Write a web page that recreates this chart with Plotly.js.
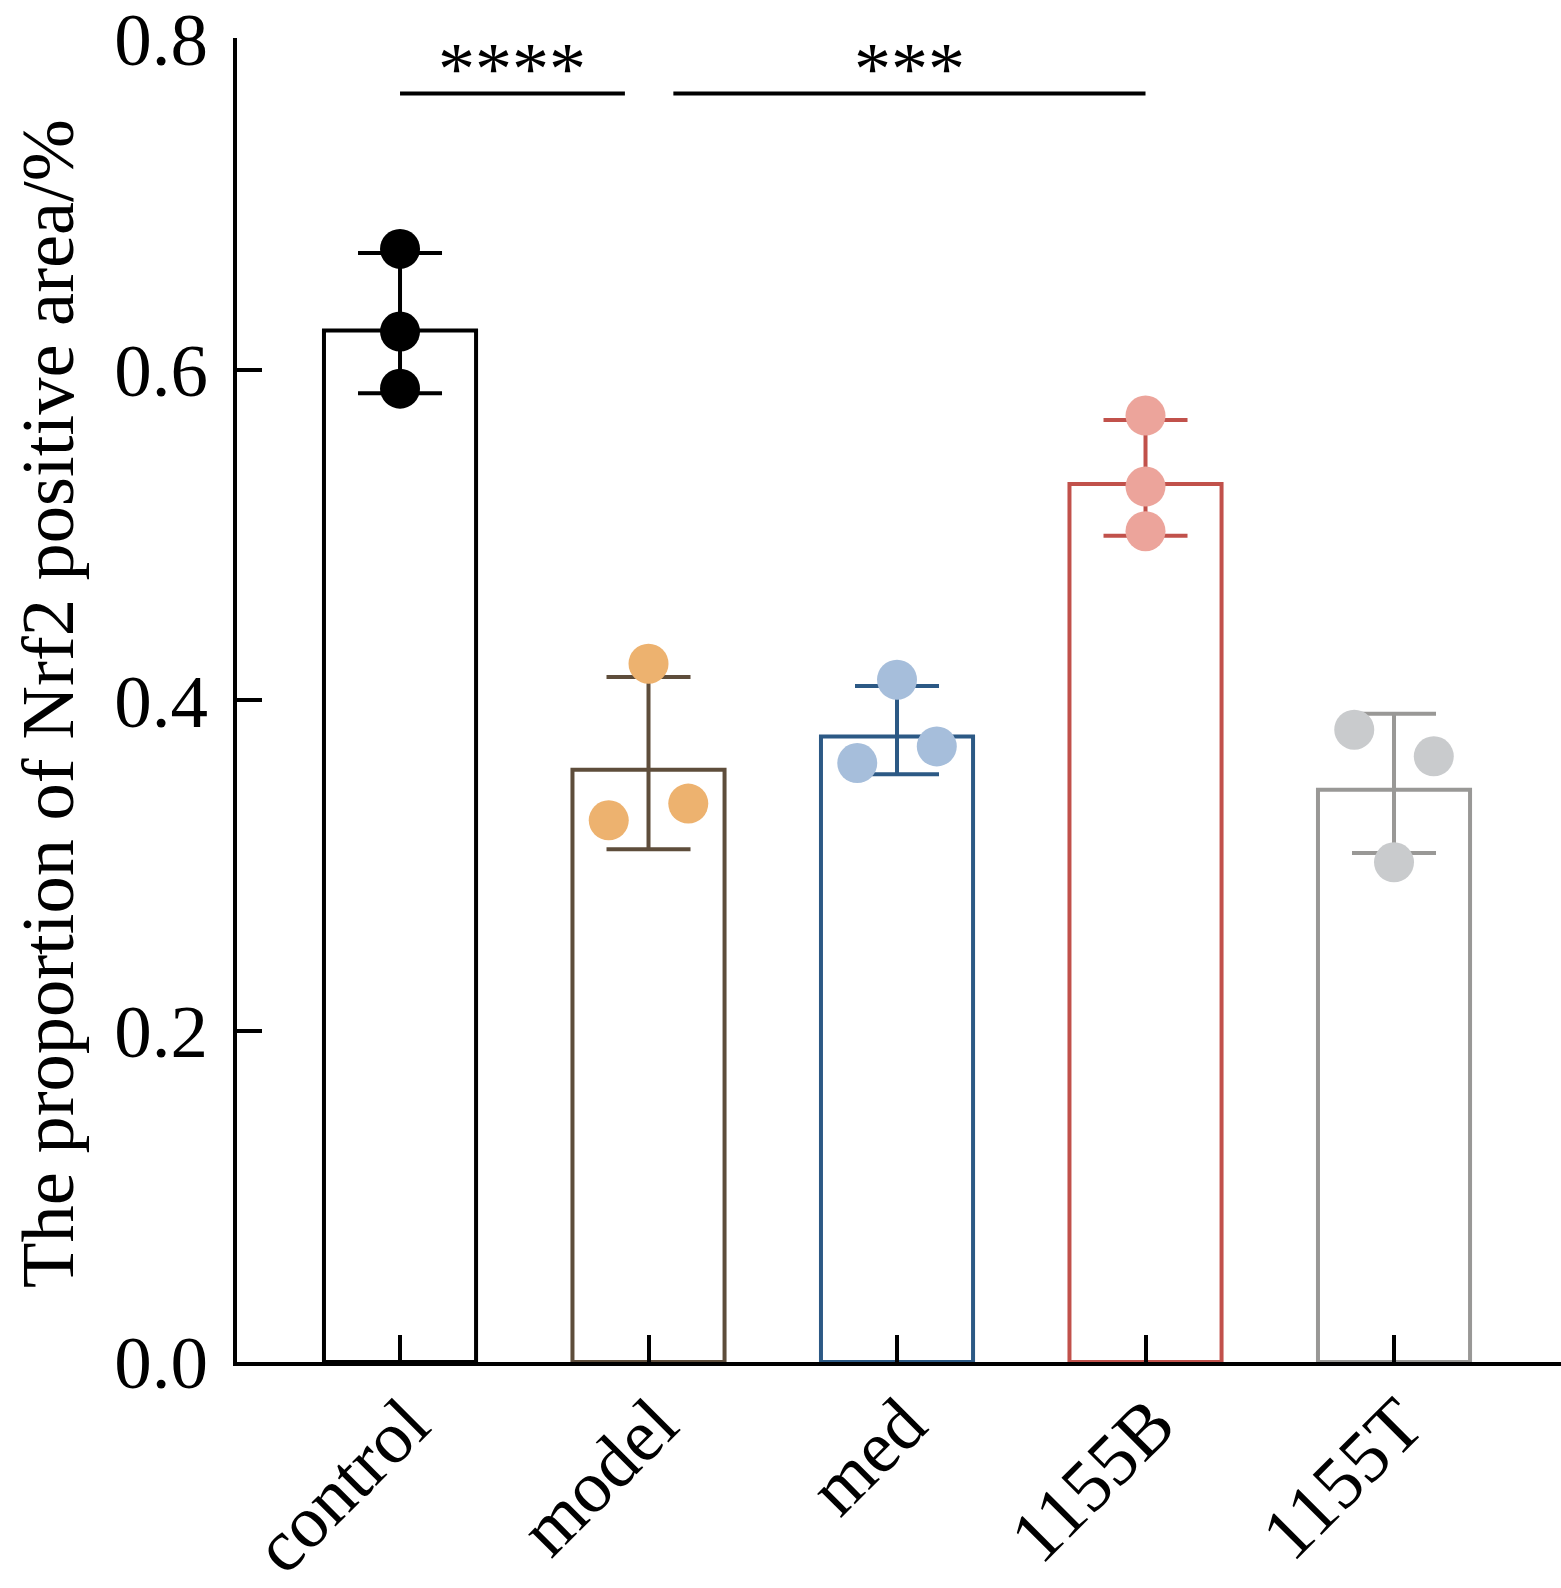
<!DOCTYPE html>
<html>
<head>
<meta charset="utf-8">
<script src="https://cdn.plot.ly/plotly-3.0.1.min.js"></script>
<style>
  html, body { margin: 0; padding: 0; background: #ffffff; }
  #chart { width: 1561px; height: 1588px; }
</style>
</head>
<body>
<div id="chart"></div>
<script>
// 分组与数值
const groups = ['control', 'model', 'med', '1155B', '1155T'];
const barMeans = [0.6236, 0.3581, 0.3782, 0.5309, 0.3460];
const errUp = [0.0469, 0.0560, 0.0305, 0.0387, 0.0460];
const errDown = [0.0379, 0.0481, 0.0229, 0.0314, 0.0383];

// 每组的单个样本点
const pointValues = [
    [0.6730, 0.6230, 0.5885],
    [0.4222, 0.3275, 0.3376],
    [0.4125, 0.3621, 0.3722],
    [0.5722, 0.5293, 0.5023],
    [0.3823, 0.3662, 0.3021]
];
// 样本点的水平偏移（类别单位）
const pointOffsets = [
    [0, 0, 0],
    [0, -0.16, 0.16],
    [0, -0.16, 0.16],
    [0, 0, 0],
    [-0.16, 0.16, 0]
];

// 颜色
const lineColors = ['#000000', '#5e4d3b', '#2c5985', '#c1514b', '#999896'];
const pointColors = ['#000000', '#edb26f', '#a6bedb', '#eca49b', '#c9cbcd'];

// 显著性标注
const sigStart = [0, 1.1];
const sigEnd = [0.905, 3.0];
const sigY = [0.767, 0.767];
const sigLabels = ['****', '***'];

const yTicks = [0, 0.2, 0.4, 0.6, 0.8];
const yTitle = 'The proportion of Nrf2 positive area/%';

const FONT = '"Liberation Serif", "Times New Roman", serif';

const data = [];

// 柱形（空心）+ 误差线
groups.forEach((g, i) => {
    data.push({
        type: 'bar',
        x: [i],
        y: [barMeans[i]],
        width: 0.612,
        marker: {
            color: 'rgba(255,255,255,0)',
            line: { color: lineColors[i], width: 4 }
        },
        error_y: {
            type: 'data',
            symmetric: false,
            array: [errUp[i]],
            arrayminus: [errDown[i]],
            color: lineColors[i],
            thickness: 4,
            width: 42
        },
        hoverinfo: 'skip',
        showlegend: false
    });
});

// 散点
groups.forEach((g, i) => {
    data.push({
        type: 'scatter',
        mode: 'markers',
        x: pointOffsets[i].map(o => i + o),
        y: pointValues[i],
        marker: { color: pointColors[i], size: 40, line: { width: 0 } },
        hoverinfo: 'skip',
        showlegend: false
    });
});

const shapes = sigStart.map((s, k) => ({
    type: 'line',
    xref: 'x', yref: 'y',
    x0: s, x1: sigEnd[k],
    y0: sigY[k], y1: sigY[k],
    line: { color: '#000000', width: 4 }
}));

const annotations = sigLabels.map((t, k) => ({
    xref: 'x', yref: 'y',
    x: (sigStart[k] + sigEnd[k]) / 2,
    y: sigY[k],
    yanchor: 'bottom',
    yshift: -19,
    text: t,
    showarrow: false,
    font: { family: FONT, size: 74, color: '#000000' }
}));

// 纵轴标题用注释放置，便于精确定位
annotations.push({
    xref: 'paper', yref: 'paper',
    x: 0, y: 0.5,
    xanchor: 'center', yanchor: 'middle',
    xshift: -189, yshift: -4,
    textangle: -90,
    text: yTitle,
    showarrow: false,
    font: { family: FONT, size: 74.5, color: '#000000' }
});

const layout = {
    width: 1561,
    height: 1588,
    margin: { l: 237, r: 0, t: 38, b: 226, pad: 0 },
    paper_bgcolor: '#ffffff',
    plot_bgcolor: '#ffffff',
    barmode: 'overlay',
    font: { family: FONT, color: '#000000' },
    xaxis: {
        range: [-0.656, 4.672],
        tickvals: groups.map((g, i) => i),
        ticktext: groups,
        tickangle: -45,
        ticks: 'inside',
        ticklen: 27,
        tickwidth: 4,
        tickcolor: '#000000',
        showline: true,
        linecolor: '#000000',
        linewidth: 4,
        showgrid: false,
        zeroline: false,
        ticklabeloverflow: 'allow',
        ticklabelstandoff: -15,
        ticklabelshift: 7,
        tickfont: { family: FONT, size: 74, color: '#000000' }
    },
    yaxis: {
        range: [0, 0.8005],
        tickvals: yTicks,
        tickformat: '.1f',
        ticks: 'inside',
        ticklen: 25,
        tickwidth: 4,
        tickcolor: '#000000',
        showline: true,
        linecolor: '#000000',
        linewidth: 4,
        showgrid: false,
        zeroline: false,
        ticklabeloverflow: 'allow',
        ticklabelstandoff: 10,
        tickfont: { family: FONT, size: 75, color: '#000000' }
    },
    shapes: shapes,
    annotations: annotations
};

Plotly.newPlot('chart', data, layout, { displayModeBar: false, responsive: false });
</script>
</body>
</html>
